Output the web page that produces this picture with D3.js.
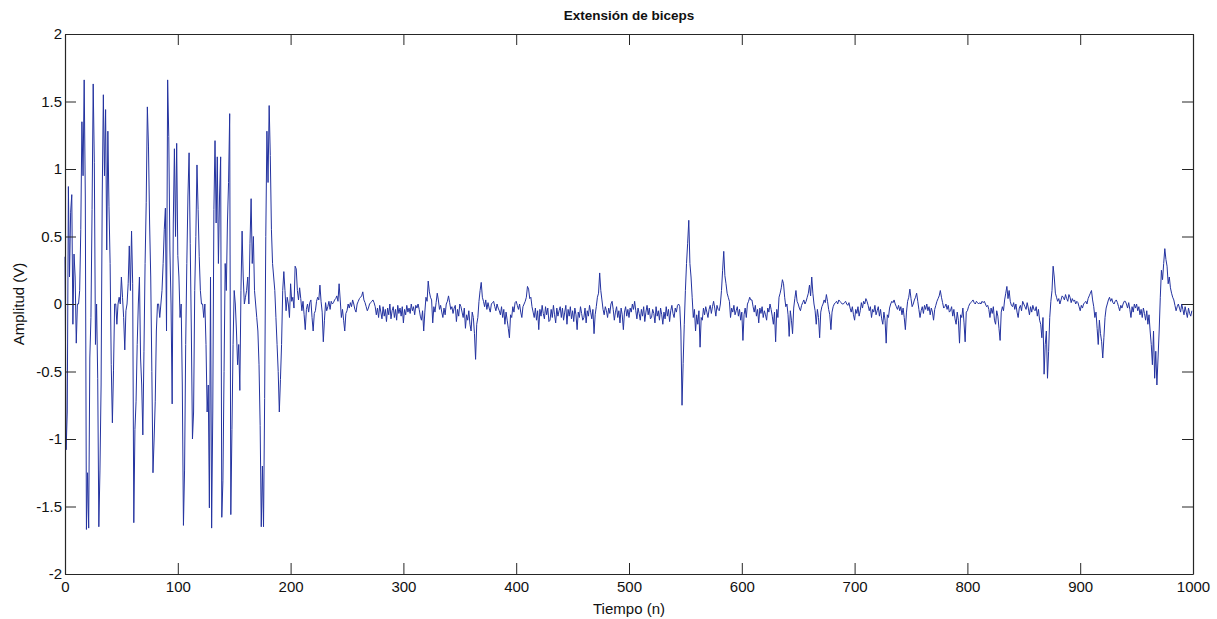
<!DOCTYPE html>
<html><head><meta charset="utf-8">
<script src="https://cdn.jsdelivr.net/npm/d3@7"></script>
<style>
html,body{margin:0;padding:0;background:#fff;}
svg{display:block;font-family:"Liberation Sans",Arial,sans-serif;}
</style></head><body>
<svg id="chart" width="1217" height="619"></svg>
<script>
const title = "Extensión de biceps";
const xLabel = "Tiempo (n)";
const yLabel = "Amplitud (V)";
const xTicks = [0,100,200,300,400,500,600,700,800,900,1000];
const yTicks = [-2,-1.5,-1,-0.5,0,0.5,1,1.5,2];
const yTickLabels = ["-2","-1.5","-1","-0.5","0","0.5","1","1.5","2"];

// burst section, samples 0-199
const burst = [
0.35,-1.08,-0.80,0.87,0.20,0.68,0.81,-0.15,0.37,0.20,
-0.29,0.00,0.00,0.10,0.55,1.35,0.95,1.66,0.80,-1.67,
-1.25,-1.66,-0.40,-0.10,0.70,1.63,1.05,-0.30,0.00,-0.55,
-1.65,-1.23,-0.60,0.80,1.55,0.95,1.44,0.40,1.28,0.72,
0.30,-0.45,-0.88,-0.49,0.00,0.00,-0.15,0.00,0.05,0.00,
0.20,0.05,-0.10,-0.34,-0.05,0.00,0.15,0.43,0.10,0.54,
0.15,-1.62,-0.93,-0.72,-0.30,0.00,0.20,-0.40,-0.60,-0.97,
-0.35,0.30,0.75,1.46,1.17,0.60,0.20,-0.50,-1.25,-1.00,
-0.72,-0.20,0.00,0.00,-0.10,0.00,0.10,0.30,0.55,0.71,
-0.20,1.66,1.24,0.40,0.00,-0.74,0.60,1.15,0.50,1.19,
0.36,0.20,-0.10,0.00,-0.60,-1.64,-1.23,-0.30,0.30,0.80,
1.12,0.45,-0.20,-1.00,-0.80,0.10,0.50,1.03,0.70,0.35,
0.10,0.00,0.00,-0.10,0.00,-0.30,-0.80,-0.60,-1.51,0.20,
-1.66,-0.80,0.70,1.21,0.60,1.09,0.30,0.80,1.09,-1.58,
-1.31,-0.50,0.30,0.10,0.60,0.90,1.41,-1.56,-0.93,-0.30,
0.10,0.00,-0.20,-0.45,-0.30,-0.64,0.10,0.54,0.20,0.00,
0.05,0.10,0.20,0.00,0.45,0.78,0.30,0.50,0.10,0.00,
-0.10,-0.20,-0.45,-0.90,-1.65,-1.20,-1.65,-0.70,0.50,1.28,
0.90,1.47,1.10,0.55,0.30,0.20,0.10,-0.10,-0.30,-0.50,
-0.80,-0.56,-0.30,0.10,0.24,0.10,-0.05,0.05,0.00,-0.10
];

// quieter section, samples 200-599
const quietA = [
0.15,0.02,0.05,-0.03,0.28,0.26,0.10,0.03,0.12,0.04,-0.05,0.02,-0.08,-0.19,-0.04,0.00,-0.06,0.01,0.03,-0.10,
-0.20,-0.07,-0.05,0.02,0.05,0.03,0.14,0.02,-0.06,-0.28,-0.12,0.01,-0.05,-0.02,0.02,-0.04,0.02,0.00,0.01,0.03,
0.04,0.06,0.02,0.15,0.03,-0.10,-0.04,-0.12,-0.20,-0.07,-0.05,0.00,-0.03,0.01,-0.02,0.03,0.00,-0.04,-0.06,0.00,
0.02,0.04,0.05,0.06,0.09,0.03,0.01,-0.02,-0.05,-0.03,0.00,0.01,0.02,0.03,0.01,-0.02,-0.08,-0.03,-0.10,-0.01,
-0.06,-0.11,-0.02,-0.09,-0.04,-0.13,-0.03,-0.08,0.00,-0.11,-0.05,-0.02,-0.10,-0.04,-0.12,-0.01,-0.07,-0.03,-0.09,-0.02,
-0.14,-0.04,-0.08,-0.01,-0.06,-0.03,-0.07,0.00,-0.05,-0.02,-0.08,-0.01,-0.03,0.00,-0.04,-0.09,-0.12,-0.05,-0.20,-0.06,
0.05,0.02,0.17,0.09,0.05,0.03,-0.14,-0.02,-0.06,0.01,0.08,0.03,-0.04,-0.01,-0.06,-0.10,-0.03,-0.08,0.00,0.02,
0.06,0.01,-0.04,-0.02,-0.07,-0.03,-0.01,-0.13,-0.04,-0.09,0.00,-0.02,-0.06,-0.10,-0.03,-0.18,-0.08,-0.12,-0.05,-0.15,
-0.20,-0.06,-0.10,-0.22,-0.41,-0.15,-0.10,0.02,0.10,0.16,0.05,0.02,-0.02,0.03,-0.04,0.01,-0.03,-0.06,0.00,0.01,
0.02,-0.02,-0.05,0.00,-0.03,-0.05,-0.08,-0.02,-0.10,-0.04,-0.15,-0.06,-0.12,-0.18,-0.25,-0.08,-0.10,-0.02,-0.06,0.01,
0.02,-0.01,-0.04,0.00,-0.06,-0.10,-0.02,0.00,0.02,0.05,0.13,0.11,0.04,0.05,-0.02,-0.06,-0.10,-0.03,-0.12,-0.05,
-0.19,-0.04,-0.09,-0.01,-0.07,-0.11,-0.02,-0.08,-0.03,-0.13,-0.12,-0.04,-0.10,-0.01,-0.08,-0.14,-0.03,-0.09,-0.05,-0.02,
-0.10,-0.03,-0.12,-0.06,-0.01,-0.15,-0.04,-0.09,-0.02,-0.11,-0.05,-0.13,-0.03,-0.08,-0.19,-0.06,-0.10,-0.02,-0.07,-0.12,
-0.10,-0.03,-0.14,-0.05,-0.09,-0.01,-0.06,-0.11,-0.04,-0.22,-0.08,-0.02,0.05,0.08,0.23,0.10,0.03,-0.04,-0.08,-0.02,
-0.05,-0.10,-0.03,-0.07,0.00,0.02,-0.04,-0.12,-0.06,-0.02,-0.10,-0.05,-0.14,-0.03,-0.08,-0.19,-0.06,-0.02,-0.09,-0.04,
-0.10,-0.03,-0.06,0.00,-0.04,0.02,-0.05,-0.11,-0.03,-0.07,-0.12,-0.04,-0.09,-0.02,-0.13,-0.06,-0.01,-0.08,-0.03,-0.11,
-0.10,-0.04,-0.07,-0.14,-0.02,-0.09,-0.05,-0.12,-0.03,-0.08,-0.15,-0.06,-0.11,-0.02,-0.09,-0.04,-0.13,-0.05,-0.01,-0.07,
-0.10,-0.03,-0.06,-0.01,0.00,-0.02,-0.20,-0.75,-0.44,-0.15,0.10,0.30,0.45,0.62,0.30,0.20,0.05,-0.10,-0.04,-0.20,
-0.08,-0.15,-0.05,-0.32,-0.10,-0.12,-0.03,-0.08,-0.02,-0.06,-0.10,-0.04,-0.01,-0.07,-0.02,0.02,-0.03,-0.09,-0.01,-0.04,
-0.05,0.00,0.10,0.25,0.39,0.21,0.15,0.08,0.05,0.02,-0.10,-0.03,-0.06,-0.01,-0.08,-0.05,-0.02,-0.09,-0.04,-0.12
];

// quieter section, samples 600-999
const quietB = [
-0.06,-0.27,-0.08,-0.03,-0.10,0.00,0.02,0.05,0.03,0.03,-0.02,-0.06,-0.01,-0.09,-0.04,-0.14,-0.03,-0.07,-0.02,-0.10,
-0.05,-0.08,-0.12,-0.03,-0.06,0.00,-0.04,-0.09,-0.15,-0.06,-0.28,-0.04,-0.10,0.05,0.08,0.12,0.18,0.15,0.05,-0.02,
0.00,-0.08,-0.24,-0.05,-0.12,-0.22,-0.03,0.04,0.10,0.02,0.00,-0.03,-0.05,-0.01,0.01,0.03,0.00,0.02,0.05,0.08,
0.14,0.06,0.20,0.08,0.00,-0.05,-0.15,-0.04,-0.10,-0.25,-0.06,-0.02,0.00,0.03,0.01,0.07,0.02,-0.04,-0.08,-0.19,
-0.06,-0.02,0.00,0.01,0.02,0.00,0.03,0.02,0.01,0.00,0.00,0.01,0.02,0.00,-0.01,0.01,-0.03,-0.06,-0.02,-0.08,
-0.12,-0.04,-0.07,-0.02,-0.09,-0.05,0.01,-0.03,0.02,0.00,0.04,0.02,-0.01,-0.05,-0.02,-0.10,-0.04,-0.06,-0.01,-0.08,
-0.05,-0.02,-0.09,-0.04,-0.11,-0.15,-0.06,-0.12,-0.29,-0.08,-0.10,-0.03,0.00,0.02,0.01,0.03,0.00,-0.02,-0.04,-0.01,
-0.05,-0.02,-0.08,-0.03,-0.10,-0.19,-0.06,0.02,0.05,0.11,0.04,-0.02,0.00,0.03,0.05,0.08,0.02,-0.04,-0.10,-0.05,
-0.02,-0.07,-0.01,-0.04,0.00,-0.05,-0.02,-0.08,-0.03,-0.06,-0.12,-0.04,-0.01,0.02,0.04,0.06,0.10,0.05,0.01,-0.03,
-0.02,0.00,-0.04,-0.01,-0.06,-0.05,-0.02,-0.09,-0.04,-0.11,-0.15,-0.06,-0.12,-0.29,-0.08,-0.10,-0.03,-0.14,-0.28,-0.06,
-0.05,-0.02,0.00,0.01,0.02,0.03,0.01,0.00,0.02,0.01,0.00,0.01,0.00,0.02,0.01,0.02,0.00,-0.02,-0.01,-0.04,
-0.10,-0.03,-0.07,-0.02,-0.12,-0.15,-0.05,-0.09,-0.18,-0.27,-0.06,-0.02,-0.05,0.03,0.08,0.13,0.04,0.10,0.02,-0.01,
-0.02,0.01,-0.04,0.00,-0.06,-0.10,-0.03,-0.01,-0.05,0.02,0.00,-0.02,-0.04,0.01,-0.03,-0.08,-0.02,-0.06,-0.01,-0.04,
-0.05,-0.02,-0.09,-0.04,-0.12,-0.15,-0.25,-0.10,-0.52,-0.30,-0.20,-0.55,-0.35,-0.10,0.02,0.10,0.28,0.20,0.08,0.05,
0.02,0.04,0.00,0.03,0.06,0.05,0.03,0.07,0.04,0.02,0.07,0.05,0.01,0.04,0.02,0.03,0.00,0.02,0.01,-0.02,
-0.05,-0.01,-0.03,0.00,0.01,0.02,0.00,0.04,0.06,0.08,0.10,0.03,-0.02,-0.10,-0.06,-0.18,-0.30,-0.12,-0.22,-0.28,
-0.40,-0.25,-0.10,-0.03,0.00,0.03,0.05,0.02,0.04,0.01,0.00,0.02,0.03,0.01,-0.02,-0.05,-0.01,-0.03,0.00,0.02,
0.02,0.00,-0.03,0.01,-0.04,-0.10,-0.02,-0.06,0.00,-0.03,0.00,-0.05,-0.02,-0.08,-0.04,-0.10,-0.03,-0.07,-0.12,-0.05,
-0.15,-0.08,-0.20,-0.30,-0.45,-0.20,-0.55,-0.35,-0.60,-0.40,-0.20,0.05,0.25,0.18,0.30,0.41,0.33,0.28,0.15,0.20,
0.12,0.08,0.05,0.03,-0.01,-0.05,-0.02,0.00,-0.03,-0.06,0.00,-0.04,-0.08,-0.02,-0.06,-0.10,-0.03,-0.07,-0.09,-0.05
];

const signal = burst.concat(quietA, quietB);

const svg = d3.select("#chart");
const L = 65, R = 1193, T = 34, B = 574;
const x = d3.scaleLinear().domain([0,1000]).range([L,R]);
const y = d3.scaleLinear().domain([-2,2]).range([B,T]);
const axisColor = "#262626";
const tickLen = 11;

svg.append("rect").attr("x",L).attr("y",T).attr("width",R-L).attr("height",B-T).attr("fill","#fff");

const line = d3.line().x((d,i)=>x(i)).y(d=>y(d));
svg.append("path").datum(signal)
  .attr("d",line).attr("fill","none")
  .attr("stroke","#2433a0").attr("stroke-width",1);

const gB = svg.append("g").attr("transform",`translate(0,${B})`)
  .call(d3.axisBottom(x).tickValues(xTicks).tickSizeInner(-tickLen).tickSizeOuter(0).tickPadding(7).tickFormat(d3.format("d")));
const gT = svg.append("g").attr("transform",`translate(0,${T})`)
  .call(d3.axisTop(x).tickValues(xTicks).tickSizeInner(-tickLen).tickSizeOuter(0).tickFormat(""));
const gL = svg.append("g").attr("transform",`translate(${L},0)`)
  .call(d3.axisLeft(y).tickValues(yTicks).tickSizeInner(-tickLen).tickSizeOuter(0).tickPadding(3).tickFormat((d,i)=>yTickLabels[i]));
const gR = svg.append("g").attr("transform",`translate(${R},0)`)
  .call(d3.axisRight(y).tickValues(yTicks).tickSizeInner(-tickLen).tickSizeOuter(0).tickFormat(""));

[gB,gT,gL,gR].forEach(g=>{
  g.select(".domain").attr("stroke",axisColor).attr("stroke-width",1.2);
  g.selectAll(".tick line").attr("stroke",axisColor).attr("stroke-width",1);
  g.selectAll(".tick text").attr("fill","#111").style("font-size","15px")
   .style("font-family","'Liberation Sans',Arial,sans-serif");
});

svg.append("text").attr("x",(L+R)/2).attr("y",20).attr("text-anchor","middle")
  .style("font-size","13.5px").style("font-weight","bold").attr("fill","#111").text(title);
svg.append("text").attr("x",(L+R)/2).attr("y",614).attr("text-anchor","middle")
  .style("font-size","15px").attr("fill","#111").text(xLabel);
svg.append("text").attr("transform",`translate(24,${(T+B)/2}) rotate(-90)`).attr("text-anchor","middle")
  .style("font-size","15px").attr("fill","#111").text(yLabel);
</script>
</body></html>
